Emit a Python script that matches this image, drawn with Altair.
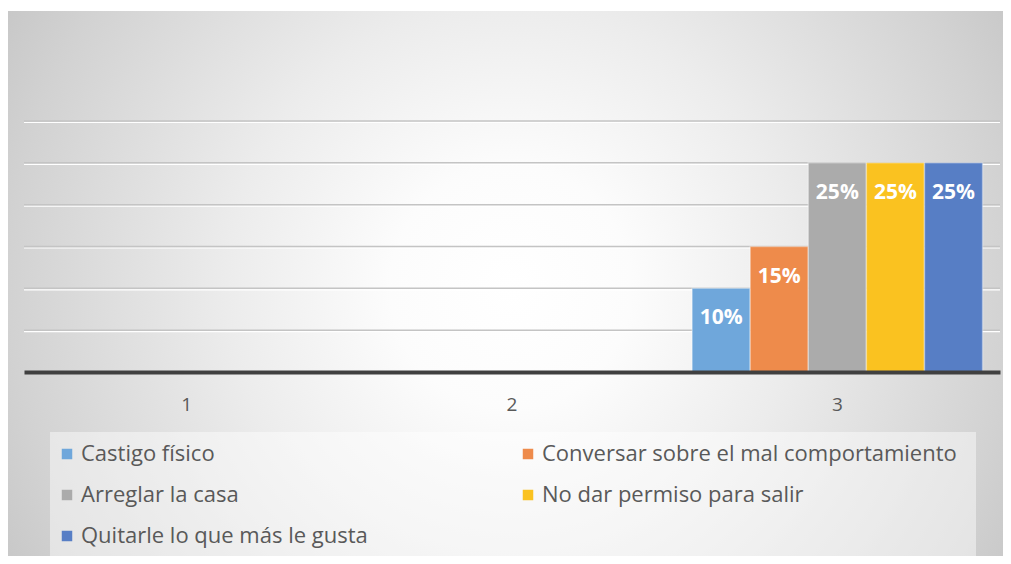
import altair as alt
import pandas as pd

categorias = ["1", "2", "3"]
series = [
    "Castigo físico",
    "Conversar sobre el mal comportamiento",
    "Arreglar la casa",
    "No dar permiso para salir",
    "Quitarle lo que más le gusta",
]
cat_de_barras = ["3", "3", "3", "3", "3"]
valores = [0.10, 0.15, 0.25, 0.25, 0.25]
colores = ["#6FA7DB", "#EE8B4B", "#ABABAB", "#FAC220", "#577EC5"]
grid_vals = [0.05, 0.10, 0.15, 0.20, 0.25, 0.30]

df = pd.DataFrame({"cat": cat_de_barras, "serie": series, "val": valores})
gdf = pd.DataFrame({"g": grid_vals})

W, H = 976, 251
FONT = "Open Sans"

yscale = alt.Scale(domain=[0, 0.30], nice=False, zero=True)
xscale = alt.Scale(domain=categorias, paddingInner=0, paddingOuter=0)
xoffscale = alt.Scale(domain=series, paddingInner=0, paddingOuter=0.3)

gradient = {
    "gradient": "radial",
    "x1": 0.5, "y1": 0.5, "x2": 0.5, "y2": 0.5,
    "r1": 0, "r2": 0.6,
    "stops": [
        {"offset": 0.0, "color": "#ffffff"},
        {"offset": 0.2, "color": "#fcfcfc"},
        {"offset": 0.47, "color": "#ececec"},
        {"offset": 0.83, "color": "#d2d2d2"},
        {"offset": 1.0, "color": "#c4c4c4"},
    ],
}

bg = alt.Chart(alt.Data(values=[{"k": 1}])).mark_rect(fill=gradient).encode(
    x=alt.value(-16), x2=alt.value(990), y=alt.value(-110), y2=alt.value(443)
)

legend_box = alt.Chart(alt.Data(values=[{"k": 1}])).mark_rect(
    fill="#ffffff", fillOpacity=0.45
).encode(x=alt.value(26), x2=alt.value(952), y=alt.value(311), y2=alt.value(443))

grid_hi = alt.Chart(gdf).mark_rule(color="#ffffff", strokeWidth=1.2, yOffset=1.5).encode(
    y=alt.Y("g:Q", scale=yscale, axis=None), x=alt.value(0), x2=alt.value(W)
)
grid = alt.Chart(gdf).mark_rule(color="#c4c4c4", strokeWidth=1.5).encode(
    y=alt.Y("g:Q", scale=yscale, axis=None), x=alt.value(0), x2=alt.value(W)
)

xenc = alt.X(
    "cat:N",
    scale=xscale,
    axis=alt.Axis(
        title=None, labelAngle=0, ticks=False, grid=False,
        domainColor="#404040", domainWidth=4,
        labelFont=FONT, labelFontSize=19, labelColor="#595959",
        labelPadding=23, zindex=1,
    ),
)
xoff = alt.XOffset("serie:N", scale=xoffscale)
yenc = alt.Y("val:Q", scale=yscale, axis=None)

bars = alt.Chart(df).mark_bar(stroke="white", strokeOpacity=0.35, strokeWidth=1.5).encode(
    x=xenc,
    xOffset=xoff,
    y=yenc,
    color=alt.Color(
        "serie:N",
        scale=alt.Scale(domain=series, range=colores),
        legend=alt.Legend(
            title=None, orient="none", legendX=32, legendY=322,
            direction="horizontal",
            columns=2, columnPadding=149, rowPadding=19,
            symbolType="square", symbolSize=110, symbolStrokeWidth=0,
            labelFont=FONT, labelFontSize=22, labelColor="#595959",
            labelLimit=0, labelOffset=3, padding=0,
        ),
    ),
)

labels = alt.Chart(df).mark_text(
    color="white", fontWeight="bold", fontSize=21, font=FONT, dy=30, baseline="middle"
).encode(
    x=alt.X("cat:N", scale=xscale),
    xOffset=xoff,
    y=yenc,
    text=alt.Text("val:Q", format=".0%"),
)

chart = (
    alt.layer(bg, legend_box, grid_hi, grid, bars, labels)
    .properties(
        width=W, height=H,
        padding={"left": 16, "top": 113, "right": 3, "bottom": 184},
        autosize=alt.AutoSizeParams(type="none"),
        background="white",
    )
    .configure_view(stroke=None)
)

chart.save("out.html", embed_options={"renderer": "svg", "actions": False})
